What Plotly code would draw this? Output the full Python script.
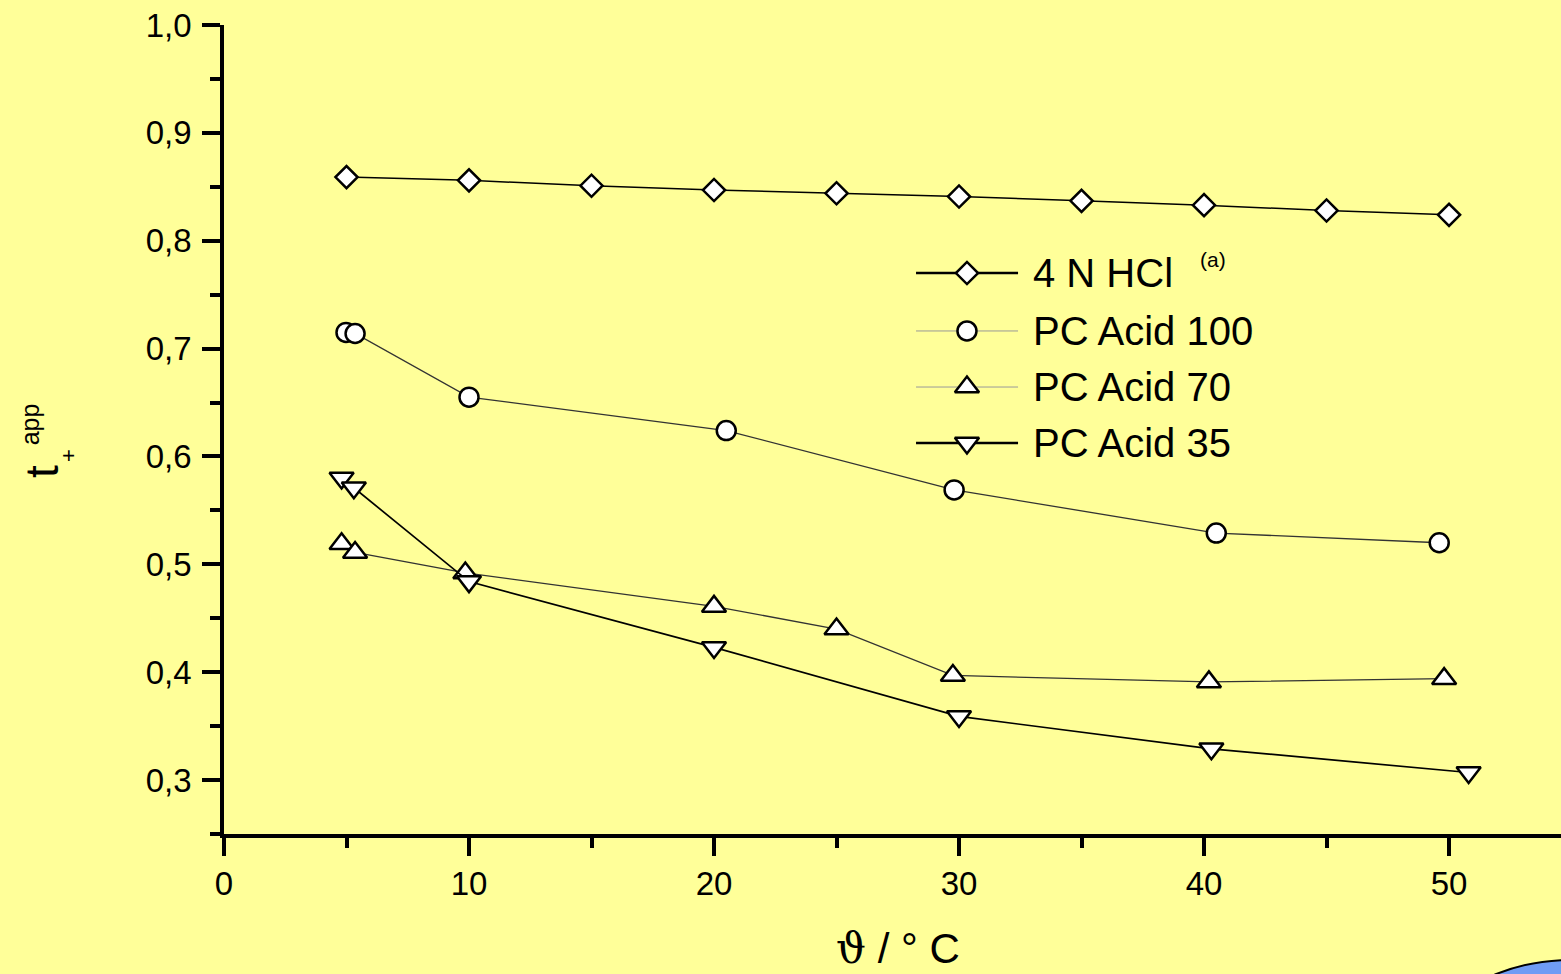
import plotly.graph_objects as go

# ---- data ----
hcl_x = [5, 10, 15, 20, 25, 30, 35, 40, 45, 50]
hcl_y = [0.859, 0.856, 0.851, 0.847, 0.844, 0.841, 0.837, 0.833, 0.828, 0.824]

pc100_x = [4.98, 5.35, 10, 20.5, 29.8, 40.5, 49.6]
pc100_y = [0.715, 0.714, 0.655, 0.624, 0.569, 0.529, 0.520]

pc70_x = [4.8, 5.35, 9.85, 20, 25, 29.75, 40.2, 49.8]
pc70_y = [0.519, 0.511, 0.492, 0.461, 0.440, 0.397, 0.391, 0.394]

pc35_x = [4.8, 5.3, 10, 20, 30, 40.3, 50.8]
pc35_y = [0.580, 0.571, 0.484, 0.423, 0.359, 0.329, 0.307]

series_names = ["4 N HCl", "PC Acid 100", "PC Acid 70", "PC Acid 35"]
x_ticks = [0, 10, 20, 30, 40, 50]
y_ticks = [0.3, 0.4, 0.5, 0.6, 0.7, 0.8, 0.9, 1.0]

BG = "#FFFF99"
FONT = "Arial, Liberation Sans, sans-serif"

series = [
    (hcl_x, hcl_y, "diamond", 17, 1.5, "#000000"),
    (pc100_x, pc100_y, "circle", 19, 1.3, "#333333"),
    (pc70_x, pc70_y, "triangle-up", 21, 1.3, "#333333"),
    (pc35_x, pc35_y, "triangle-down", 21, 1.7, "#000000"),
]

fig = go.Figure()
for (xs, ys, sym, sz, lw, lc), name in zip(series, series_names):
    fig.add_trace(go.Scatter(
        x=xs, y=ys, mode="lines+markers", name=name, showlegend=False,
        line=dict(color=lc, width=lw),
        marker=dict(symbol=sym, size=sz, color="white",
                    line=dict(color="black", width=2.5)),
        cliponaxis=False,
    ))

# ---- custom legend (drawn on a hidden overlay axis in 0..1 fractions) ----
leg_rows = [0.6934, 0.6218, 0.5525, 0.4833]
leg_line_x = [0.5176, 0.5939]
leg_mark_x = 0.5557
leg_text_x = 0.6035
leg_line_styles = [(2.5, "#000000"), (1, "#999999"), (1, "#999999"), (2.5, "#000000")]
for (xs, ys, sym, sz, lw, lc), ry, (llw, llc) in zip(series, leg_rows, leg_line_styles):
    fig.add_trace(go.Scatter(
        x=leg_line_x, y=[ry, ry], xaxis="x2", yaxis="y2", mode="lines",
        line=dict(color=llc, width=llw), showlegend=False, hoverinfo="skip"))
    fig.add_trace(go.Scatter(
        x=[leg_mark_x], y=[ry], xaxis="x2", yaxis="y2", mode="markers",
        marker=dict(symbol=sym, size=sz, color="white",
                    line=dict(color="black", width=2.5)),
        showlegend=False, hoverinfo="skip"))

annotations = []
for name, ry in zip(series_names, leg_rows):
    annotations.append(dict(x=leg_text_x, y=ry, xref="paper", yref="paper",
                            text=name, showarrow=False, xanchor="left",
                            yanchor="middle", font=dict(size=40, color="black", family=FONT)))
annotations.append(dict(x=0.7397, y=0.710, xref="paper", yref="paper", text="(a)",
                        showarrow=False, xanchor="center", yanchor="middle",
                        font=dict(size=21, color="black", family=FONT)))

# y-axis title t_+^app built from rotated pieces
annotations += [
    dict(x=-0.1365, y=0.448, xref="paper", yref="paper", text="t", textangle=-90,
         showarrow=False, xanchor="center", yanchor="middle",
         font=dict(size=46, color="black", family=FONT)),
    dict(x=-0.1160, y=0.4685, xref="paper", yref="paper", text="+", textangle=-90,
         showarrow=False, xanchor="center", yanchor="middle",
         font=dict(size=22, color="black", family=FONT)),
    dict(x=-0.1455, y=0.507, xref="paper", yref="paper", text="app", textangle=-90,
         showarrow=False, xanchor="center", yanchor="middle",
         font=dict(size=25, color="black", family=FONT)),
]
# x-axis title
annotations.append(dict(x=0.504, y=-0.141, xref="paper", yref="paper",
                        text="<span style='font-family:DejaVu Serif'>ϑ</span> / ° C",
                        showarrow=False, xanchor="center", yanchor="middle",
                        font=dict(size=42, color="black", family=FONT)))

fig.update_layout(
    width=1561, height=974, autosize=False,
    margin=dict(l=224, r=0, t=25, b=140),
    paper_bgcolor=BG, plot_bgcolor=BG,
    separators=",.",
    font=dict(family=FONT, color="black"),
    annotations=annotations,
    shapes=[dict(type="circle", xref="paper", yref="paper",
                 x0=0.8571, x1=1.1563, y0=-0.6502, y1=-0.1557,
                 fillcolor="#6f9cf5", line=dict(color="black", width=2), layer="above")],
    xaxis=dict(range=[0, 54.57], tickvals=x_ticks, showgrid=False, zeroline=False,
               showline=True, linecolor="black", linewidth=3.5,
               ticks="outside", ticklen=18, tickwidth=4, tickcolor="black",
               ticklabelstandoff=0,
               tickfont=dict(size=33, color="black", family=FONT),
               minor=dict(ticks="outside", ticklen=10, tickwidth=4, tickcolor="black",
                          dtick=5, tick0=0, showgrid=False)),
    yaxis=dict(range=[0.25, 1.0], tickvals=y_ticks, tickformat=".1f", showgrid=False,
               zeroline=False, showline=True, linecolor="black", linewidth=3.5,
               ticks="outside", ticklen=18, tickwidth=4, tickcolor="black",
               ticklabelstandoff=4,
               tickfont=dict(size=33, color="black", family=FONT),
               minor=dict(ticks="outside", ticklen=10, tickwidth=4, tickcolor="black",
                          dtick=0.05, tick0=0, showgrid=False)),
    xaxis2=dict(overlaying="x", range=[0, 1], visible=False),
    yaxis2=dict(overlaying="y", range=[0, 1], visible=False),
)

fig.write_html("out.html")
